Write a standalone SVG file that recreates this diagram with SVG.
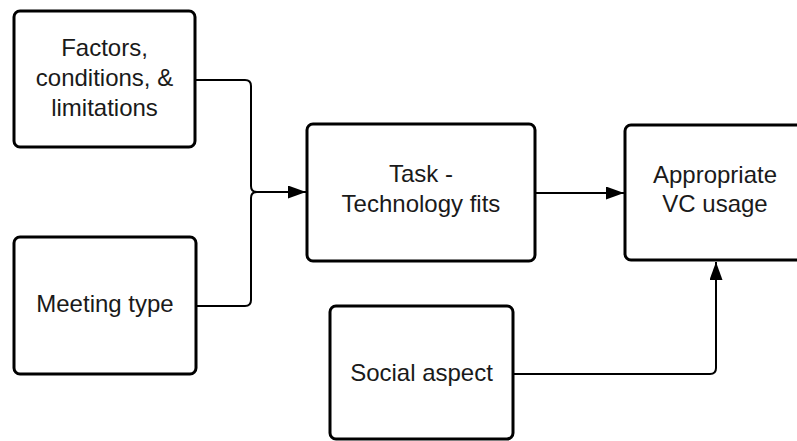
<svg xmlns="http://www.w3.org/2000/svg" width="797" height="441" viewBox="0 0 797 441">
<defs>
<style>
.box{fill:#fff;stroke:#000;stroke-width:3}
.lbl{font-family:"Liberation Sans",Arial,sans-serif;font-size:24px;fill:#1a1a1a;text-anchor:middle}
.con{fill:none;stroke:#000;stroke-width:2}
</style>
<marker id="arr" viewBox="0 0 18 13" refX="18" refY="6.5" markerWidth="18" markerHeight="13" markerUnits="userSpaceOnUse" orient="auto">
<path d="M0,0 L18,6.5 L0,13 Z" fill="#000"/>
</marker>
</defs>
<rect width="797" height="441" fill="#fff"/>
<g id="connectors">
<path class="con" d="M196,80 H245 Q251,80 251,86 V186 Q251,192 257,192 H306" marker-end="url(#arr)"/>
<path class="con" d="M196,306 H245 Q251,306 251,300 V198 Q251,192 257,192"/>
<path class="con" d="M536,193 H624" marker-end="url(#arr)"/>
<path class="con" d="M514,374 H710 Q716,374 716,368 V262" marker-end="url(#arr)"/>
</g>
<g id="factors">
<rect class="box" x="14" y="11" width="181" height="136" rx="6"/>
<text class="lbl" x="104.5" y="56">Factors,</text>
<text class="lbl" x="104.5" y="86">conditions, &amp;</text>
<text class="lbl" x="104.5" y="116">limitations</text>
</g>
<g id="meeting">
<rect class="box" x="14" y="237" width="182" height="137" rx="6"/>
<text class="lbl" x="105" y="312">Meeting type</text>
</g>
<g id="task">
<rect class="box" x="307" y="124" width="228" height="137" rx="6"/>
<text class="lbl" x="421" y="182">Task -</text>
<text class="lbl" x="421" y="212">Technology fits</text>
</g>
<g id="vc">
<rect class="box" x="625" y="125" width="182" height="135" rx="6"/>
<text class="lbl" x="715" y="182.5">Appropriate</text>
<text class="lbl" x="715" y="212">VC usage</text>
</g>
<g id="social">
<rect class="box" x="330" y="306" width="183" height="133" rx="6"/>
<text class="lbl" x="421.5" y="381">Social aspect</text>
</g>
</svg>
